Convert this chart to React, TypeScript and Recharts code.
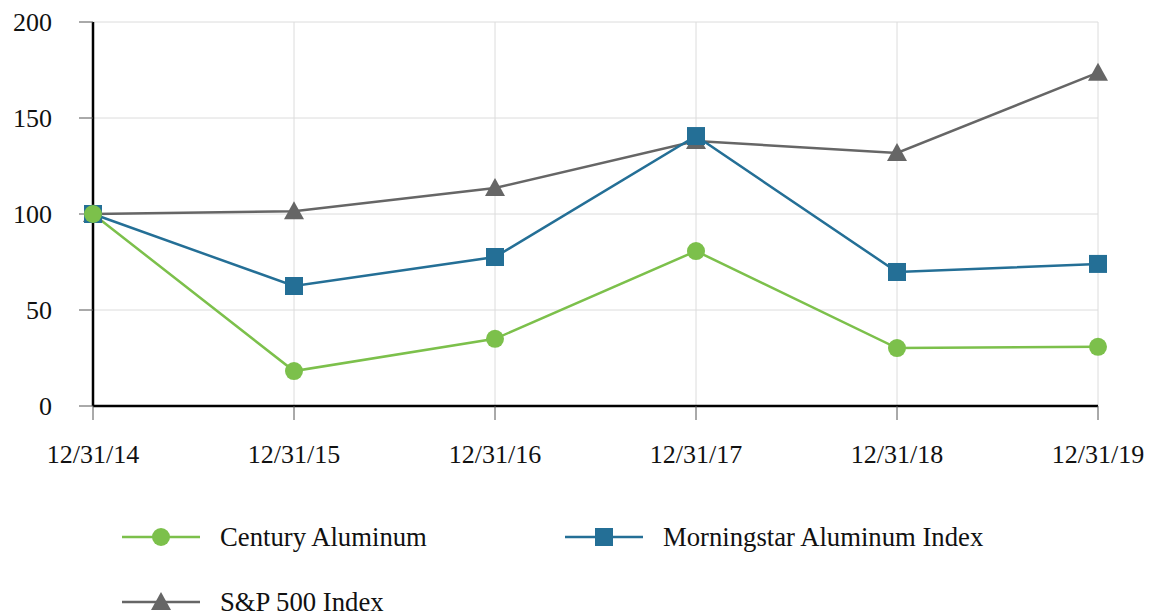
import React from "react";
import { LineChart, Line, XAxis, YAxis, CartesianGrid, Legend } from "recharts";

const categories = ["12/31/14", "12/31/15", "12/31/16", "12/31/17", "12/31/18", "12/31/19"];
const century = [100, 18.2, 35, 80.7, 30.2, 30.8];
const morningstar = [100, 62.5, 77.6, 140.6, 69.8, 74];
const sp500 = [100, 101.4, 113.5, 138, 131.8, 173.6];
const yTicks = [0, 50, 100, 150, 200];

const GREEN = "#7CC04B";
const BLUE = "#246F96";
const GRAY = "#666666";
const FONT = "'Liberation Serif', 'Times New Roman', serif";

const data = categories.map((c, i) => ({
  date: c,
  century: century[i],
  morningstar: morningstar[i],
  sp500: sp500[i],
}));

const CircleDot = (props: any) => {
  const { cx, cy, index } = props;
  if (cx == null || cy == null) return <g key={`c${index}`} />;
  return <circle key={`c${index}`} cx={cx} cy={cy} r={9} fill={GREEN} />;
};
const SquareDot = (props: any) => {
  const { cx, cy, index } = props;
  if (cx == null || cy == null) return <g key={`s${index}`} />;
  return <rect key={`s${index}`} x={cx - 9} y={cy - 9} width={18} height={18} fill={BLUE} />;
};
const TriDot = (props: any) => {
  const { cx, cy, index } = props;
  if (cx == null || cy == null) return <g key={`t${index}`} />;
  return (
    <polygon
      key={`t${index}`}
      points={`${cx},${cy - 10} ${cx + 10},${cy + 8} ${cx - 10},${cy + 8}`}
      fill={GRAY}
    />
  );
};

const legendItems = [
  { label: "Century Aluminum", color: GREEN, shape: "circle", left: 122, top: 22 },
  { label: "Morningstar Aluminum Index", color: BLUE, shape: "square", left: 565, top: 22 },
  { label: "S&P 500 Index", color: GRAY, shape: "triangle", left: 122, top: 87 },
];

const renderLegend = () => (
  <div style={{ position: "relative", height: 100, width: 1150 }}>
    {legendItems.map((it) => (
      <div
        key={it.label}
        style={{ position: "absolute", left: it.left, top: it.top - 15, height: 30, display: "flex", alignItems: "center" }}
      >
        <svg width={78} height={30} style={{ display: "block" }}>
          <line x1={0} y1={15} x2={78} y2={15} stroke={it.color} strokeWidth={2.5} />
          {it.shape === "circle" && <circle cx={39} cy={15} r={9} fill={it.color} />}
          {it.shape === "square" && <rect x={30} y={6} width={18} height={18} fill={it.color} />}
          {it.shape === "triangle" && <polygon points="39,5 49,23 29,23" fill={it.color} />}
        </svg>
        <span style={{ marginLeft: 20, fontFamily: FONT, fontSize: 26.7, color: "#111", lineHeight: "30px", whiteSpace: "nowrap" }}>
          {it.label}
        </span>
      </div>
    ))}
  </div>
);

export default function App() {
  return (
    <div style={{ position: "absolute", top: 0, left: 0, width: 1150, height: 615, overflow: "hidden", background: "#fff" }}>
      <LineChart
        width={1150}
        height={615}
        data={data}
        margin={{ top: 22, right: 52, left: 0, bottom: 0 }}
      >
        <CartesianGrid stroke="#dcdcdc" strokeWidth={1} />
        <XAxis
          dataKey="date"
          axisLine={{ stroke: "#000", strokeWidth: 2.5 }}
          tickLine={{ stroke: "#555", strokeWidth: 1 }}
          tickSize={14}
          tickMargin={25}
          height={109}
          interval={0}
          tick={{ fill: "#111", fontSize: 26, fontFamily: FONT }}
        />
        <YAxis
          domain={[0, 200]}
          ticks={yTicks}
          width={93}
          axisLine={{ stroke: "#000", strokeWidth: 2.5 }}
          tickLine={{ stroke: "#555", strokeWidth: 1 }}
          tickSize={14}
          tickMargin={27}
          tick={{ fill: "#111", fontSize: 26, fontFamily: FONT }}
        />
        <Legend verticalAlign="bottom" content={renderLegend} wrapperStyle={{ left: 0, width: 1150 }} />
        <Line
          dataKey="sp500"
          name="S&P 500 Index"
          stroke={GRAY}
          strokeWidth={2.5}
          dot={TriDot}
          activeDot={false}
          isAnimationActive={false}
        />
        <Line
          dataKey="morningstar"
          name="Morningstar Aluminum Index"
          stroke={BLUE}
          strokeWidth={2.5}
          dot={SquareDot}
          activeDot={false}
          isAnimationActive={false}
        />
        <Line
          dataKey="century"
          name="Century Aluminum"
          stroke={GREEN}
          strokeWidth={2.5}
          dot={CircleDot}
          activeDot={false}
          isAnimationActive={false}
        />
      </LineChart>
    </div>
  );
}
